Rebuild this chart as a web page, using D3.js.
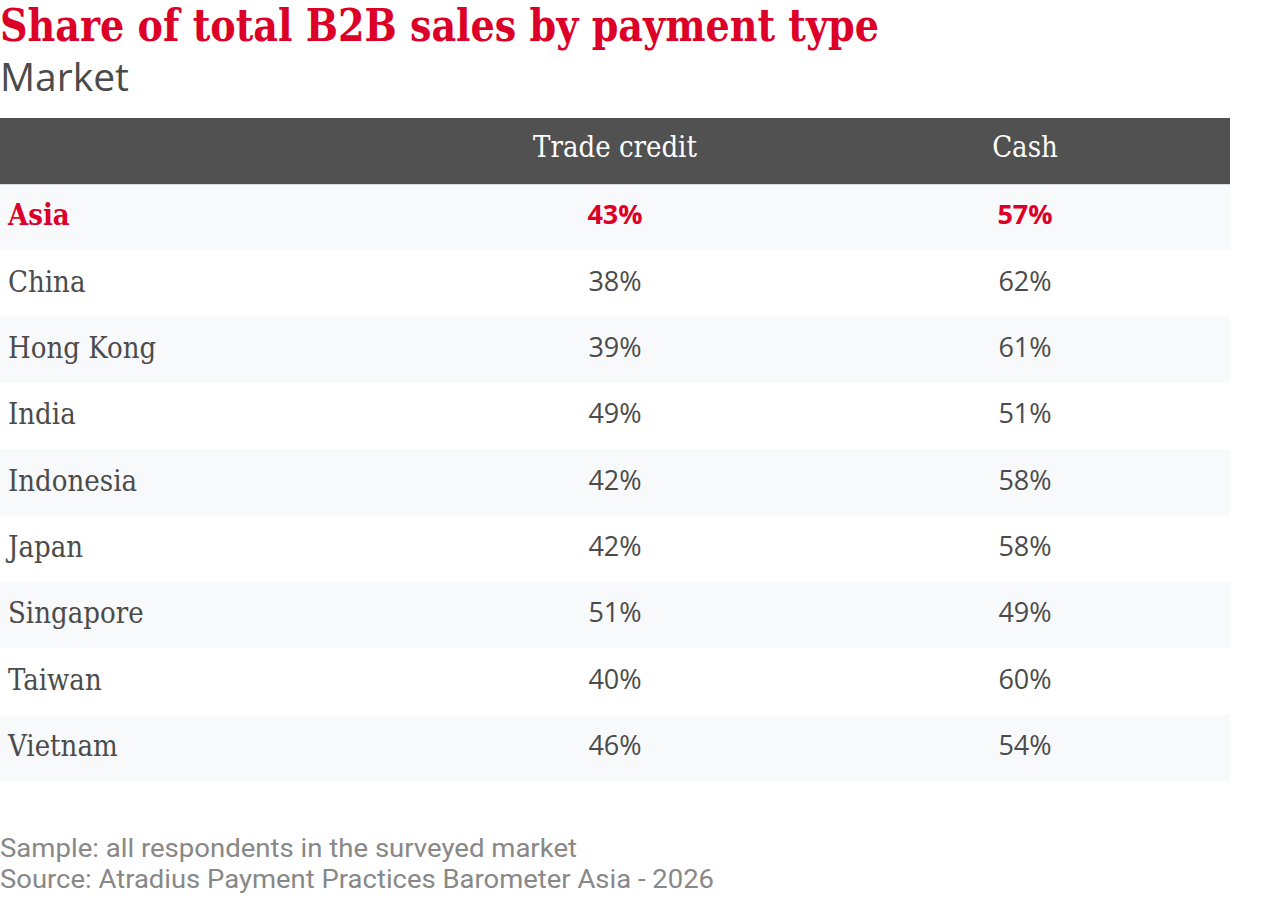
<!DOCTYPE html>
<html>
<head>
<meta charset="utf-8">
<script src="https://cdn.jsdelivr.net/npm/d3@7"></script>
<style>
  html, body { margin: 0; padding: 0; background: #fff; }
  svg { display: block; }
</style>
</head>
<body>
<svg id="chart" width="1280" height="900"></svg>
<script>
const title = "Share of total B2B sales by payment type";
const subtitle = "Market";
const columns = ["Trade credit", "Cash"];
const markets = ["Asia", "China", "Hong Kong", "India", "Indonesia", "Japan", "Singapore", "Taiwan", "Vietnam"];
const tradeCredit = [43, 38, 39, 49, 42, 42, 51, 40, 46];
const cash = [57, 62, 61, 51, 58, 58, 49, 60, 54];
const highlight = ["Asia"];
const notes = ["Sample: all respondents in the surveyed market", "Source: Atradius Payment Practices Barometer Asia - 2026"];

const RED = "#dc0028", DARK = "#4b4b4b", HEAD = "#515151", ALT = "#f8f9fb", FOOT = "#888888";
const serif = "'DejaVu Serif Condensed', 'DejaVu Serif', serif";
const sans = "'Open Sans', 'Noto Sans', sans-serif";
const footSans = "Roboto, 'Open Sans', sans-serif";

const svg = d3.select("#chart");
const tableLeft = 0, tableRight = 1230, headTop = 118, headBottom = 184, bodyBottom = 781;

const rows = markets.map((m, i) => ({ market: m, values: [tradeCredit[i], cash[i]], i }));

const y = d3.scaleBand().domain(markets).range([headBottom, bodyBottom]).padding(0);
const x = d3.scaleBand().domain(columns).range([410, tableRight]).padding(0);

// Title
svg.append("text").attr("x", 0).attr("y", 41)
  .attr("font-family", serif).attr("font-weight", "bold").attr("font-size", 44)
  .attr("fill", RED).attr("textLength", 879).attr("lengthAdjust", "spacingAndGlyphs")
  .text(title);
svg.append("text").attr("x", 0).attr("y", 91)
  .attr("font-family", sans).attr("font-size", 39).attr("fill", DARK)
  .text(subtitle);

// Header
svg.append("rect").attr("x", tableLeft).attr("y", headTop)
  .attr("width", tableRight - tableLeft).attr("height", headBottom - headTop).attr("fill", HEAD);
svg.selectAll("text.head").data(columns).join("text").attr("class", "head")
  .attr("x", d => x(d) + x.bandwidth() / 2).attr("y", 157)
  .attr("text-anchor", "middle").attr("font-family", serif).attr("font-size", 29)
  .attr("fill", "#ffffff").text(d => d);

// Rows
const g = svg.selectAll("g.row").data(rows).join("g").attr("class", "row");
g.append("rect").attr("x", tableLeft).attr("y", d => y(d.market))
  .attr("width", tableRight - tableLeft).attr("height", y.bandwidth())
  .attr("fill", d => d.i % 2 === 0 ? ALT : "#ffffff");
g.append("text").attr("x", 8).attr("y", d => y(d.market) + y.bandwidth() / 2 + 8)
  .attr("font-family", serif).attr("font-size", 29)
  .attr("font-weight", d => highlight.includes(d.market) ? "bold" : "normal")
  .attr("fill", d => highlight.includes(d.market) ? RED : DARK)
  .text(d => d.market);
g.selectAll("text.val").data(d => d.values.map((v, k) => ({ v, col: columns[k], hl: highlight.includes(d.market), market: d.market })))
  .join("text").attr("class", "val")
  .attr("x", d => x(d.col) + x.bandwidth() / 2)
  .attr("y", d => y(d.market) + y.bandwidth() / 2 + 7)
  .attr("text-anchor", "middle").attr("font-family", sans).attr("font-size", 27)
  .attr("font-weight", d => d.hl ? "bold" : "normal")
  .attr("fill", d => d.hl ? RED : DARK)
  .text(d => d.v + "%");

// Header separator line
svg.append("line").attr("x1", tableLeft).attr("x2", tableRight)
  .attr("y1", headBottom + 0.5).attr("y2", headBottom + 0.5)
  .attr("stroke", "#dcdcdc").attr("stroke-width", 1);

// Footer notes
const noteWidths = [577, 714];
svg.selectAll("text.note").data(notes).join("text").attr("class", "note")
  .attr("x", 0).attr("y", (d, i) => 857 + i * 31)
  .attr("font-family", footSans).attr("font-size", 25.5).attr("fill", FOOT)
  .attr("textLength", (d, i) => noteWidths[i]).attr("lengthAdjust", "spacingAndGlyphs")
  .text(d => d);
</script>
</body>
</html>
